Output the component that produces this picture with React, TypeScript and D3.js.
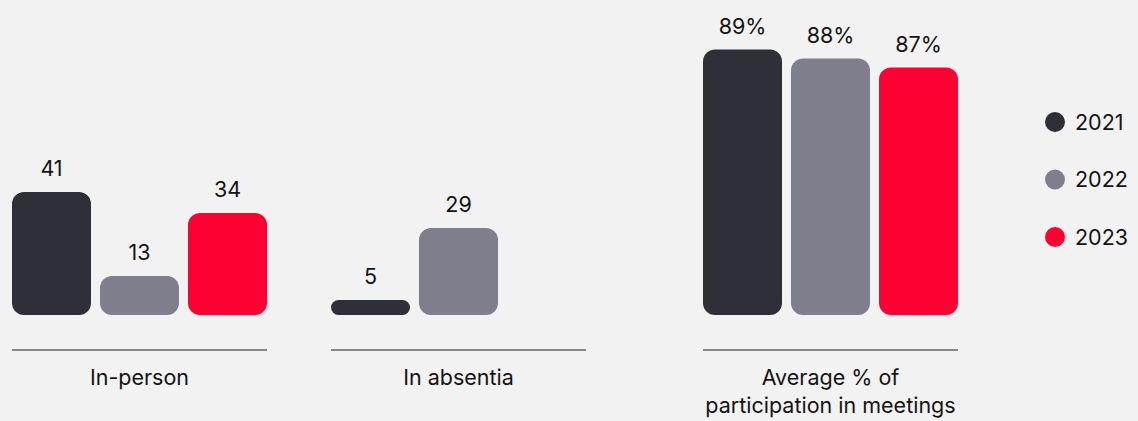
import React, { useRef, useEffect } from "react";
import * as d3 from "d3";

const years = ["2021", "2022", "2023"];
const colors = ["#2f2f38", "#7f7e8c", "#ff0033"];
const inPerson = [41, 13, 34];
const inAbsentia: (number | null)[] = [5, 29, null];
const participation = [89, 88, 87];
const panelLabels = [["In-person"], ["In absentia"], ["Average % of", "participation in meetings"]];

const W = 1138;
const H = 421;
const FONT = "Inter, 'Noto Sans', sans-serif";
const FS = 21.5;

const App: React.FC = () => {
  const svgRef = useRef<SVGSVGElement | null>(null);

  useEffect(() => {
    document.body.style.margin = "0";
    const svg = d3.select(svgRef.current);
    svg.selectAll("*").remove();

    svg.append("rect").attr("width", W).attr("height", H).attr("fill", "#f2f2f2");

    const baseY = 315;
    const panelX = [12, 331, 703];
    const panelW = 255;

    // counts share one scale, percentages get their own
    const yCount = d3.scaleLinear().domain([0, 41]).range([baseY, 192]);
    const yPct = d3.scaleLinear().domain([59.5, 89.5]).range([baseY, 45]);

    const panels = [
      { values: inPerson as (number | null)[], y: yCount, fmt: (v: number) => `${v}` },
      { values: inAbsentia, y: yCount, fmt: (v: number) => `${v}` },
      { values: participation as (number | null)[], y: yPct, fmt: (v: number) => `${v}%` },
    ];

    panels.forEach((p, pi) => {
      const x = d3
        .scaleBand()
        .domain(years)
        .range([panelX[pi], panelX[pi] + panelW])
        .paddingInner(9 / 88)
        .paddingOuter(0);

      const g = svg.append("g");
      const data = p.values
        .map((v, i) => ({ year: years[i], value: v, color: colors[i] }))
        .filter((d): d is { year: string; value: number; color: string } => d.value !== null);

      g.selectAll("rect.bar")
        .data(data)
        .enter()
        .append("rect")
        .attr("class", "bar")
        .attr("x", (d) => x(d.year)!)
        .attr("y", (d) => p.y(d.value))
        .attr("width", x.bandwidth())
        .attr("height", (d) => baseY - p.y(d.value))
        .attr("rx", (d) => Math.min(12, (baseY - p.y(d.value)) / 2))
        .attr("fill", (d) => d.color);

      g.selectAll("text.val")
        .data(data)
        .enter()
        .append("text")
        .attr("class", "val")
        .attr("x", (d) => x(d.year)! + x.bandwidth() / 2)
        .attr("y", (d) => p.y(d.value) - 16)
        .attr("text-anchor", "middle")
        .attr("font-family", FONT)
        .attr("font-size", FS)
        .attr("fill", "#141414")
        .text((d) => p.fmt(d.value));

      g.append("line")
        .attr("x1", panelX[pi])
        .attr("x2", panelX[pi] + panelW)
        .attr("y1", 350)
        .attr("y2", 350)
        .attr("stroke", "#1a1a1a")
        .attr("stroke-width", 1.2);

      panelLabels[pi].forEach((t, li) => {
        g.append("text")
          .attr("x", panelX[pi] + panelW / 2)
          .attr("y", 385 + li * 28)
          .attr("text-anchor", "middle")
          .attr("font-family", FONT)
          .attr("font-size", FS)
          .attr("fill", "#141414")
          .text(t);
      });
    });

    // legend
    const legend = svg.append("g");
    years.forEach((yr, i) => {
      const cy = 122 + i * 57.5;
      legend.append("circle").attr("cx", 1055).attr("cy", cy).attr("r", 10).attr("fill", colors[i]);
      legend
        .append("text")
        .attr("x", 1075)
        .attr("y", cy + 7.5)
        .attr("font-family", FONT)
        .attr("font-size", FS)
        .attr("fill", "#141414")
        .text(yr);
    });
  }, []);

  return <svg ref={svgRef} width={W} height={H} style={{ display: "block" }}></svg>;
};

export default App;
